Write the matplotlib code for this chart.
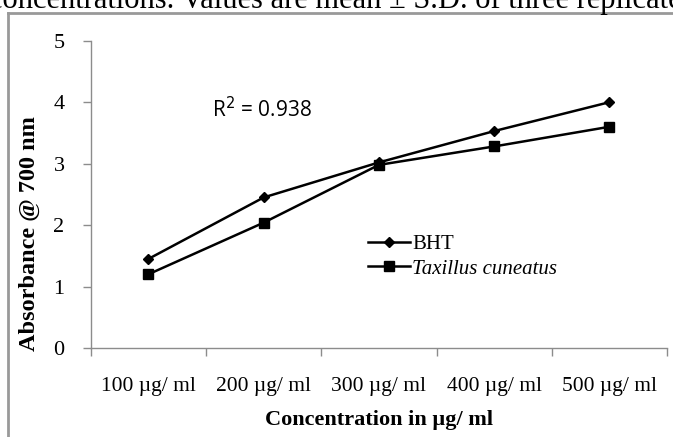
import numpy as np
import matplotlib.pyplot as plt
from matplotlib.lines import Line2D

categories = ['100 \u00b5g/ ml', '200 \u00b5g/ ml', '300 \u00b5g/ ml', '400 \u00b5g/ ml', '500 \u00b5g/ ml']
bht = [1.45, 2.45, 3.02, 3.53, 4.0]
taxillus = [1.2, 2.04, 2.98, 3.28, 3.6]
y_ticks = [0, 1, 2, 3, 4, 5]

serif = 'Liberation Serif'
axis_grey = '#8c8c8c'

fig = plt.figure(figsize=(6.73, 4.37), dpi=100)
ax = fig.add_axes([0.135, 0.2037, 0.856, 0.703])

x = np.arange(len(categories))
ax.plot(x, bht, color='black', lw=1.8, marker='D', ms=5.5, label='BHT')
ax.plot(x, taxillus, color='black', lw=1.8, marker='s', ms=7.5, label='Taxillus cuneatus')

ax.set_xlim(-0.5, len(categories) - 0.5)
ax.set_ylim(0, 5)
ax.set_yticks(y_ticks)
ax.set_yticklabels([str(v) for v in y_ticks], fontfamily=serif, fontsize=16)

# category boundaries carry the tick marks, labels sit in between
ax.set_xticks(np.arange(-0.5, len(categories)))
ax.set_xticklabels([])
ax.set_xticks(x, minor=True)
ax.set_xticklabels(categories, minor=True, fontfamily=serif, fontsize=15.5)
ax.tick_params(axis='x', which='minor', length=0, pad=21)
ax.tick_params(axis='x', which='major', length=6, color=axis_grey, width=1)
ax.tick_params(axis='y', length=6, color=axis_grey, width=1, pad=13)

for side in ['top', 'right']:
    ax.spines[side].set_visible(False)
for side in ['left', 'bottom']:
    ax.spines[side].set_color(axis_grey)
    ax.spines[side].set_linewidth(1)

ax.set_xlabel('Concentration in \u00b5g/ ml', fontfamily=serif, fontsize=16,
              fontweight='bold', labelpad=10)
ax.set_ylabel('Absorbance @ 700 nm', fontfamily=serif, fontsize=17.5,
              fontweight='bold')
ax.yaxis.set_label_coords(-0.088, 0.374)

ax.text(0.21, 0.775, 'R$^2$ = 0.938', transform=ax.transAxes, fontfamily='Open Sans',
        fontsize=15, va='center', ha='left')

leg = ax.legend(loc='upper left', bbox_to_anchor=(0.467, 0.397), frameon=False,
                prop={'family': serif, 'size': 15}, handlelength=2.0,
                handletextpad=0.1, labelspacing=0.25, borderaxespad=0)
leg.get_texts()[1].set_fontstyle('italic')

# frame around the figure panel and the cut-off caption above it
fig.add_artist(Line2D([8 / 673, 8 / 673], [0, 1 - 13 / 437], color='#999999', lw=2,
                      transform=fig.transFigure))
fig.add_artist(Line2D([8 / 673, 1], [1 - 13 / 437, 1 - 13 / 437], color='#999999', lw=2,
                      transform=fig.transFigure))
fig.text(-0.016, 1 - 8 / 437, 'concentrations. Values are mean \u00b1 S.D. of three replicates',
         fontfamily=serif, fontsize=22, va='baseline', ha='left')

fig.savefig('out.png', dpi=100)
